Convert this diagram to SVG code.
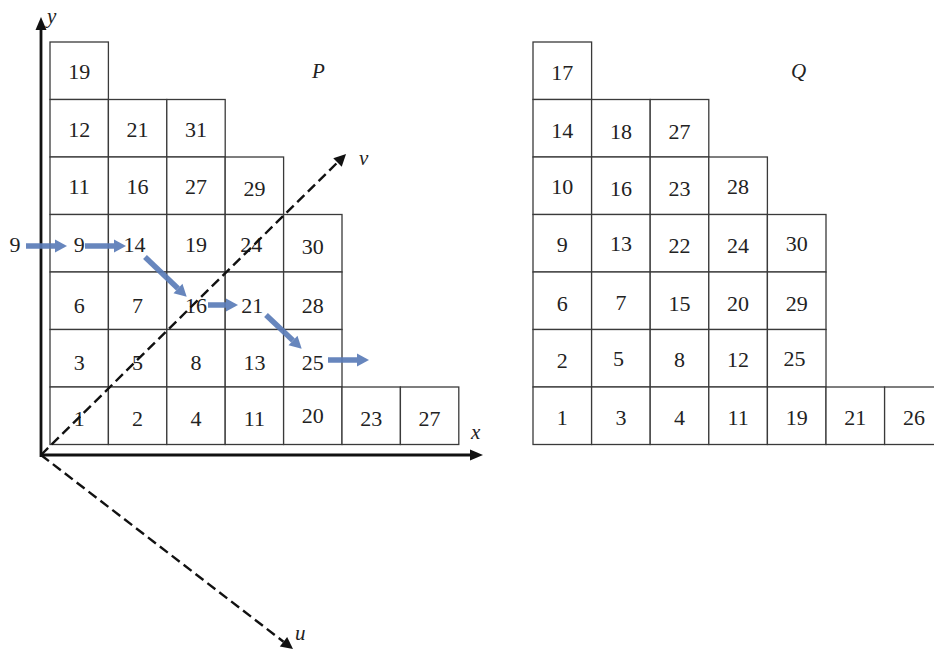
<svg xmlns="http://www.w3.org/2000/svg" width="934" height="651" viewBox="0 0 934 651">
<defs>
<style>
.cell{fill:#fff;stroke:#3a3a3a;stroke-width:1.3}
.num{font-family:"Liberation Serif","DejaVu Serif",serif;font-size:22px;fill:#222;text-anchor:middle}
.lab{font-family:"Liberation Serif","DejaVu Serif",serif;font-size:21px;font-style:italic;fill:#222}
.axis{stroke:#111;stroke-width:2.8;fill:none}
.dash{stroke:#111;stroke-width:2.4;stroke-dasharray:10 5;fill:none}
.blue{stroke:#5b7cb8;stroke-width:5.5;fill:none;opacity:0.92}
</style>
<marker id="bh" markerUnits="userSpaceOnUse" markerWidth="12" markerHeight="13" refX="0" refY="6.5" orient="auto" overflow="visible"><path d="M0,0 L12,6.5 L0,13 z" fill="#5b7cb8"/></marker>
<marker id="kh" markerUnits="userSpaceOnUse" markerWidth="13" markerHeight="11" refX="0" refY="5.5" orient="auto" overflow="visible"><path d="M0,0 L13,5.5 L0,11 z" fill="#111"/></marker>
<marker id="dh" markerUnits="userSpaceOnUse" markerWidth="12" markerHeight="12" refX="0" refY="6" orient="auto" overflow="visible"><path d="M0,0 L12,6 L0,12 z" fill="#111"/></marker>
</defs>
<rect width="934" height="651" fill="#fff"/>

<g id="gridP">
<g id="p-r0c0" transform="translate(50,42)"><rect class="cell" width="58.4" height="57.5"/><text class="num" x="29.2" y="37">19</text></g>
<g id="p-r1c0" transform="translate(50,99.5)"><rect class="cell" width="58.4" height="57.5"/><text class="num" x="29.2" y="37">12</text></g>
<g id="p-r1c1" transform="translate(108.4,99.5)"><rect class="cell" width="58.4" height="57.5"/><text class="num" x="29.2" y="37">21</text></g>
<g id="p-r1c2" transform="translate(166.8,99.5)"><rect class="cell" width="58.4" height="57.5"/><text class="num" x="29.2" y="37">31</text></g>
<g id="p-r2c0" transform="translate(50,157)"><rect class="cell" width="58.4" height="57.5"/><text class="num" x="29.2" y="37">11</text></g>
<g id="p-r2c1" transform="translate(108.4,157)"><rect class="cell" width="58.4" height="57.5"/><text class="num" x="29.2" y="37">16</text></g>
<g id="p-r2c2" transform="translate(166.8,157)"><rect class="cell" width="58.4" height="57.5"/><text class="num" x="29.2" y="37">27</text></g>
<g id="p-r2c3" transform="translate(225.2,157)"><rect class="cell" width="58.4" height="57.5"/><text class="num" x="29.2" y="39">29</text></g>
<g id="p-r3c0" transform="translate(50,214.5)"><rect class="cell" width="58.4" height="57.5"/><text class="num" x="29.2" y="37">9</text></g>
<g id="p-r3c1" transform="translate(108.4,214.5)"><rect class="cell" width="58.4" height="57.5"/><text class="num" x="26" y="37">14</text></g>
<g id="p-r3c2" transform="translate(166.8,214.5)"><rect class="cell" width="58.4" height="57.5"/><text class="num" x="29.2" y="37">19</text></g>
<g id="p-r3c3" transform="translate(225.2,214.5)"><rect class="cell" width="58.4" height="57.5"/><text class="num" x="26" y="37">24</text></g>
<g id="p-r3c4" transform="translate(283.6,214.5)"><rect class="cell" width="58.4" height="57.5"/><text class="num" x="29.2" y="39">30</text></g>
<g id="p-r4c0" transform="translate(50,272)"><rect class="cell" width="58.4" height="57.5"/><text class="num" x="29.2" y="41">6</text></g>
<g id="p-r4c1" transform="translate(108.4,272)"><rect class="cell" width="58.4" height="57.5"/><text class="num" x="29.2" y="41">7</text></g>
<g id="p-r4c2" transform="translate(166.8,272)"><rect class="cell" width="58.4" height="57.5"/><text class="num" x="29.2" y="41">16</text></g>
<g id="p-r4c3" transform="translate(225.2,272)"><rect class="cell" width="58.4" height="57.5"/><text class="num" x="27" y="41">21</text></g>
<g id="p-r4c4" transform="translate(283.6,272)"><rect class="cell" width="58.4" height="57.5"/><text class="num" x="29.2" y="41">28</text></g>
<g id="p-r5c0" transform="translate(50,329.5)"><rect class="cell" width="58.4" height="57.5"/><text class="num" x="29.2" y="40">3</text></g>
<g id="p-r5c1" transform="translate(108.4,329.5)"><rect class="cell" width="58.4" height="57.5"/><text class="num" x="29.2" y="40">5</text></g>
<g id="p-r5c2" transform="translate(166.8,329.5)"><rect class="cell" width="58.4" height="57.5"/><text class="num" x="29.2" y="40">8</text></g>
<g id="p-r5c3" transform="translate(225.2,329.5)"><rect class="cell" width="58.4" height="57.5"/><text class="num" x="29.2" y="40">13</text></g>
<g id="p-r5c4" transform="translate(283.6,329.5)"><rect class="cell" width="58.4" height="57.5"/><text class="num" x="29.2" y="40">25</text></g>
<g id="p-r6c0" transform="translate(50,387)"><rect class="cell" width="58.4" height="57.5"/><text class="num" x="29.2" y="39">1</text></g>
<g id="p-r6c1" transform="translate(108.4,387)"><rect class="cell" width="58.4" height="57.5"/><text class="num" x="29.2" y="39">2</text></g>
<g id="p-r6c2" transform="translate(166.8,387)"><rect class="cell" width="58.4" height="57.5"/><text class="num" x="29.2" y="39">4</text></g>
<g id="p-r6c3" transform="translate(225.2,387)"><rect class="cell" width="58.4" height="57.5"/><text class="num" x="29.2" y="39">11</text></g>
<g id="p-r6c4" transform="translate(283.6,387)"><rect class="cell" width="58.4" height="57.5"/><text class="num" x="29.2" y="36">20</text></g>
<g id="p-r6c5" transform="translate(342,387)"><rect class="cell" width="58.4" height="57.5"/><text class="num" x="29.2" y="39">23</text></g>
<g id="p-r6c6" transform="translate(400.4,387)"><rect class="cell" width="58.4" height="57.5"/><text class="num" x="29.2" y="39">27</text></g>
</g>

<g id="gridQ">
<g id="q-r0c0" transform="translate(533,42)"><rect class="cell" width="58.6" height="57.5"/><text class="num" x="29.3" y="38">17</text></g>
<g id="q-r1c0" transform="translate(533,99.5)"><rect class="cell" width="58.6" height="57.5"/><text class="num" x="29.3" y="38">14</text></g>
<g id="q-r1c1" transform="translate(591.6,99.5)"><rect class="cell" width="58.6" height="57.5"/><text class="num" x="29.3" y="39">18</text></g>
<g id="q-r1c2" transform="translate(650.2,99.5)"><rect class="cell" width="58.6" height="57.5"/><text class="num" x="29.3" y="39">27</text></g>
<g id="q-r2c0" transform="translate(533,157)"><rect class="cell" width="58.6" height="57.5"/><text class="num" x="29.3" y="37">10</text></g>
<g id="q-r2c1" transform="translate(591.6,157)"><rect class="cell" width="58.6" height="57.5"/><text class="num" x="29.3" y="39">16</text></g>
<g id="q-r2c2" transform="translate(650.2,157)"><rect class="cell" width="58.6" height="57.5"/><text class="num" x="29.3" y="39">23</text></g>
<g id="q-r2c3" transform="translate(708.8,157)"><rect class="cell" width="58.6" height="57.5"/><text class="num" x="29.3" y="37">28</text></g>
<g id="q-r3c0" transform="translate(533,214.5)"><rect class="cell" width="58.6" height="57.5"/><text class="num" x="29.3" y="37">9</text></g>
<g id="q-r3c1" transform="translate(591.6,214.5)"><rect class="cell" width="58.6" height="57.5"/><text class="num" x="29.3" y="36">13</text></g>
<g id="q-r3c2" transform="translate(650.2,214.5)"><rect class="cell" width="58.6" height="57.5"/><text class="num" x="29.3" y="38">22</text></g>
<g id="q-r3c3" transform="translate(708.8,214.5)"><rect class="cell" width="58.6" height="57.5"/><text class="num" x="29.3" y="38">24</text></g>
<g id="q-r3c4" transform="translate(767.4,214.5)"><rect class="cell" width="58.6" height="57.5"/><text class="num" x="29.3" y="36">30</text></g>
<g id="q-r4c0" transform="translate(533,272)"><rect class="cell" width="58.6" height="57.5"/><text class="num" x="29.3" y="39">6</text></g>
<g id="q-r4c1" transform="translate(591.6,272)"><rect class="cell" width="58.6" height="57.5"/><text class="num" x="29.3" y="38">7</text></g>
<g id="q-r4c2" transform="translate(650.2,272)"><rect class="cell" width="58.6" height="57.5"/><text class="num" x="29.3" y="39">15</text></g>
<g id="q-r4c3" transform="translate(708.8,272)"><rect class="cell" width="58.6" height="57.5"/><text class="num" x="29.3" y="39">20</text></g>
<g id="q-r4c4" transform="translate(767.4,272)"><rect class="cell" width="58.6" height="57.5"/><text class="num" x="29.3" y="39">29</text></g>
<g id="q-r5c0" transform="translate(533,329.5)"><rect class="cell" width="58.6" height="57.5"/><text class="num" x="29.3" y="38">2</text></g>
<g id="q-r5c1" transform="translate(591.6,329.5)"><rect class="cell" width="58.6" height="57.5"/><text class="num" x="27" y="36">5</text></g>
<g id="q-r5c2" transform="translate(650.2,329.5)"><rect class="cell" width="58.6" height="57.5"/><text class="num" x="29.3" y="37">8</text></g>
<g id="q-r5c3" transform="translate(708.8,329.5)"><rect class="cell" width="58.6" height="57.5"/><text class="num" x="29.3" y="37">12</text></g>
<g id="q-r5c4" transform="translate(767.4,329.5)"><rect class="cell" width="58.6" height="57.5"/><text class="num" x="27" y="36">25</text></g>
<g id="q-r6c0" transform="translate(533,387)"><rect class="cell" width="58.6" height="57.5"/><text class="num" x="29.3" y="38">1</text></g>
<g id="q-r6c1" transform="translate(591.6,387)"><rect class="cell" width="58.6" height="57.5"/><text class="num" x="29.3" y="38">3</text></g>
<g id="q-r6c2" transform="translate(650.2,387)"><rect class="cell" width="58.6" height="57.5"/><text class="num" x="29.3" y="38">4</text></g>
<g id="q-r6c3" transform="translate(708.8,387)"><rect class="cell" width="58.6" height="57.5"/><text class="num" x="29.3" y="38">11</text></g>
<g id="q-r6c4" transform="translate(767.4,387)"><rect class="cell" width="58.6" height="57.5"/><text class="num" x="29.3" y="38">19</text></g>
<g id="q-r6c5" transform="translate(826,387)"><rect class="cell" width="58.6" height="57.5"/><text class="num" x="29.3" y="38">21</text></g>
<g id="q-r6c6" transform="translate(884.6,387)"><rect class="cell" width="58.6" height="57.5"/><text class="num" x="29.3" y="38">26</text></g>
</g>

<g id="input9"><text class="num" x="15" y="252">9</text></g>

<g id="connectors">
<line class="axis" x1="41" y1="457" x2="41" y2="30" marker-end="url(#kh)"/>
<line class="axis" x1="40" y1="455" x2="470" y2="455" marker-end="url(#kh)"/>
<line class="dash" x1="41" y1="455" x2="337.5" y2="162.4" marker-end="url(#dh)"/>
<line class="dash" x1="41" y1="455" x2="283.5" y2="641.7" marker-end="url(#dh)"/>
<line class="blue" x1="26" y1="246" x2="55" y2="246" marker-end="url(#bh)"/>
<line class="blue" x1="85" y1="246" x2="114" y2="246" marker-end="url(#bh)"/>
<line class="blue" x1="145" y1="257" x2="178" y2="288.5" marker-end="url(#bh)"/>
<line class="blue" x1="208" y1="305" x2="226" y2="305" marker-end="url(#bh)"/>
<line class="blue" x1="266" y1="315" x2="293" y2="340.5" marker-end="url(#bh)"/>
<line class="blue" x1="328" y1="360" x2="357" y2="360" marker-end="url(#bh)"/>
</g>

<g id="labels">
<text class="lab" x="47" y="23">y</text>
<text class="lab" x="471" y="439">x</text>
<text class="lab" x="359" y="165">v</text>
<text class="lab" x="295" y="640">u</text>
<text class="lab" x="312" y="78">P</text>
<text class="lab" x="791" y="78">Q</text>
</g>
</svg>
